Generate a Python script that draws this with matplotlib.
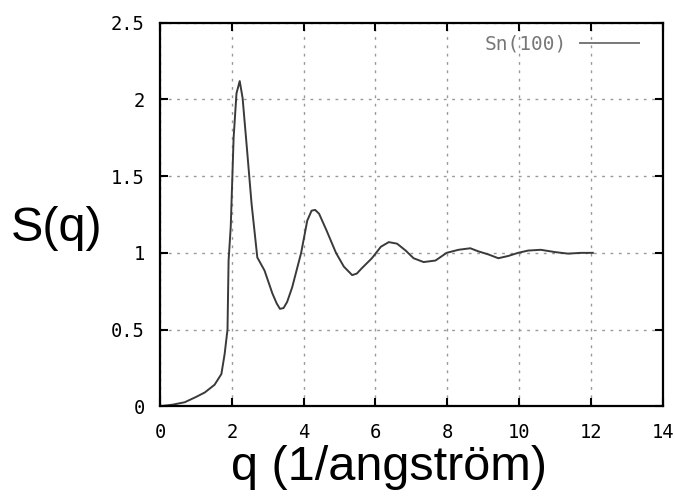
import numpy as np
import matplotlib
matplotlib.use("Agg")
import matplotlib.pyplot as plt

# S(q) curve for Sn(100)
q = [0.0, 0.35, 0.69, 1.0, 1.25, 1.52, 1.71, 1.8, 1.88, 1.91, 1.97, 2.05, 2.13,
     2.22, 2.3, 2.41, 2.55, 2.71, 2.91, 3.13, 3.25, 3.34, 3.44, 3.54, 3.68, 3.93, 4.1,
     4.22, 4.32, 4.43, 4.63, 4.9, 5.12, 5.35, 5.48, 5.62, 5.9, 6.15, 6.37, 6.6, 6.84,
     7.06, 7.34, 7.67, 7.98, 8.31, 8.64, 8.86, 9.14, 9.42, 9.7, 9.97, 10.25,
     10.6, 11.0, 11.36, 11.72, 12.05]
s = [0.0, 0.01, 0.026, 0.06, 0.09, 0.14, 0.21, 0.34, 0.5, 0.95, 1.17, 1.75, 2.04,
     2.12, 2.01, 1.71, 1.32, 0.97, 0.885, 0.735, 0.67, 0.635, 0.64, 0.68, 0.775, 1.0, 1.21,
     1.275, 1.28, 1.255, 1.15, 1.0, 0.91, 0.855, 0.865, 0.9, 0.965, 1.04, 1.07, 1.06, 1.015,
     0.965, 0.94, 0.95, 1.0, 1.02, 1.03, 1.01, 0.99, 0.965, 0.98, 1.0, 1.015,
     1.02, 1.005, 0.995, 1.0, 1.0]

xticks = [0, 2, 4, 6, 8, 10, 12, 14]
yticks = [0, 0.5, 1, 1.5, 2, 2.5]
ytick_labels = ["0", "0.5", "1", "1.5", "2", "2.5"]

fig = plt.figure(figsize=(6.75, 4.96), dpi=100)
ax = fig.add_axes([0.237, 0.181, 0.745, 0.773])

ax.plot(q, s, color="#3a3a3a", lw=1.4, label="Sn(100)")

ax.set_xlim(0, 14)
ax.set_ylim(0, 2.5)
ax.set_xticks(xticks)
ax.set_yticks(yticks)
ax.set_yticklabels(ytick_labels)
ax.grid(True, color="#999999", linestyle=(0, (2, 4)), lw=1.0)
ax.tick_params(direction="in", top=True, right=True, length=6, width=1.5,
               labelsize=13.5)
ax.tick_params(axis="x", pad=12)
ax.tick_params(axis="y", pad=11)
for lab in ax.get_xticklabels() + ax.get_yticklabels():
    lab.set_family("DejaVu Sans Mono")
for sp in ax.spines.values():
    sp.set_linewidth(1.6)

ax.set_xlabel("q (1/angström)", fontsize=35, family="Liberation Sans")
ax.xaxis.set_label_coords(0.455, -0.161)
ax.xaxis.label.set_va("center")
ax.set_ylabel("S(q)", fontsize=35, family="Liberation Sans", rotation=0)
ax.yaxis.set_label_coords(-0.205, 0.464)
ax.yaxis.label.set_va("center")
ax.yaxis.label.set_ha("center")

leg = ax.legend(loc="upper right", frameon=False, markerfirst=False,
                prop={"family": "DejaVu Sans Mono", "size": 14},
                handlelength=3.0, handletextpad=0.7,
                bbox_to_anchor=(0.975, 1.0), borderaxespad=0.2)
for t in leg.get_texts():
    t.set_color("#777777")
for h in leg.get_lines():
    h.set_color("#777777")

fig.savefig("out.png", dpi=100)
